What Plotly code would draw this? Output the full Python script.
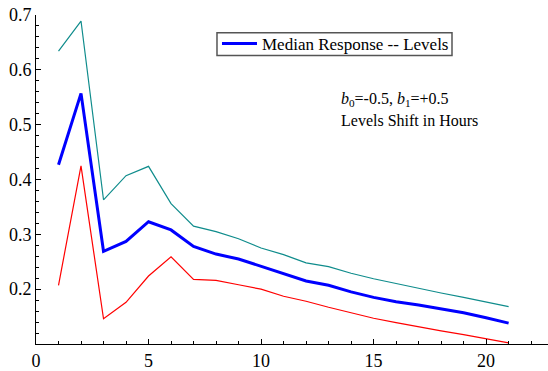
import plotly.graph_objects as go

# Horizon (hours) and the impulse-response bands
hours = list(range(1, 22))
upper = [0.634, 0.689, 0.363, 0.407, 0.424, 0.356, 0.315, 0.305, 0.292, 0.275,
         0.263, 0.248, 0.241, 0.229, 0.219, 0.210, 0.201, 0.193, 0.185, 0.176, 0.168]
median = [0.427, 0.557, 0.269, 0.287, 0.323, 0.308, 0.278, 0.264, 0.255, 0.242,
          0.228, 0.215, 0.207, 0.195, 0.185, 0.177, 0.171, 0.164, 0.157, 0.148, 0.138]
lower = [0.207, 0.425, 0.146, 0.176, 0.224, 0.259, 0.218, 0.216, 0.208, 0.200,
         0.187, 0.178, 0.167, 0.157, 0.147, 0.139, 0.131, 0.124, 0.117, 0.110, 0.102]

x_ticks = [0, 5, 10, 15, 20]
y_ticks = [0.2, 0.3, 0.4, 0.5, 0.6, 0.7]

FONT = "Liberation Serif, Times New Roman, serif"

fig = go.Figure()
fig.add_trace(go.Scatter(x=hours, y=upper, mode="lines",
                         line=dict(color="#0f8c8c", width=1.2), showlegend=False))
fig.add_trace(go.Scatter(x=hours, y=lower, mode="lines",
                         line=dict(color="#ff0000", width=1.2), showlegend=False))
fig.add_trace(go.Scatter(x=hours, y=median, mode="lines",
                         name="Median Response -- Levels",
                         line=dict(color="#0000ff", width=3)))

axis_common = dict(
    showgrid=False, zeroline=False, showline=True, linecolor="black", linewidth=1,
    ticks="inside", ticklen=5, tickcolor="black", tickwidth=1,
    tickfont=dict(family=FONT, size=18, color="black"),
)

fig.update_xaxes(range=[0, 22.75], tickvals=x_ticks, ticktext=[str(v) for v in x_ticks],
                 minor=dict(dtick=1, tick0=0, ticks="inside", ticklen=3,
                            tickcolor="black"),
                 **axis_common)
fig.update_yaxes(range=[0.1, 0.7], tickvals=y_ticks, ticktext=[f"{v:.1f}" for v in y_ticks],
                 minor=dict(dtick=0.02, tick0=0.1, ticks="inside", ticklen=3,
                            tickcolor="black"),
                 **axis_common)

fig.add_annotation(xref="paper", yref="paper", x=0.592, y=0.742,
                   xanchor="left", yanchor="middle", showarrow=False,
                   text="<i>b</i><sub>0</sub>=-0.5, <i>b</i><sub>1</sub>=+0.5",
                   font=dict(family=FONT, size=16, color="black"))
fig.add_annotation(xref="paper", yref="paper", x=0.592, y=0.680,
                   xanchor="left", yanchor="middle", showarrow=False,
                   text="Levels Shift in Hours",
                   font=dict(family=FONT, size=16, color="black"))

# Compact frame around the legend entry
fig.add_shape(type="rect", xref="paper", yref="paper",
              x0=0.3535, x1=0.8125, y0=0.8769, y1=0.9459,
              line=dict(color="#555555", width=1.5), fillcolor="white", layer="below")

fig.update_layout(
    width=548, height=371,
    margin=dict(l=36, r=0, t=15, b=23),
    paper_bgcolor="white", plot_bgcolor="white",
    font=dict(family=FONT, size=17, color="black"),
    legend=dict(x=0.3535, y=0.967, xanchor="left", yanchor="top",
                borderwidth=0, bgcolor="rgba(0,0,0,0)",
                font=dict(family=FONT, size=17, color="black"),
                itemwidth=35, tracegroupgap=0),
)

fig.write_html("out.html")
